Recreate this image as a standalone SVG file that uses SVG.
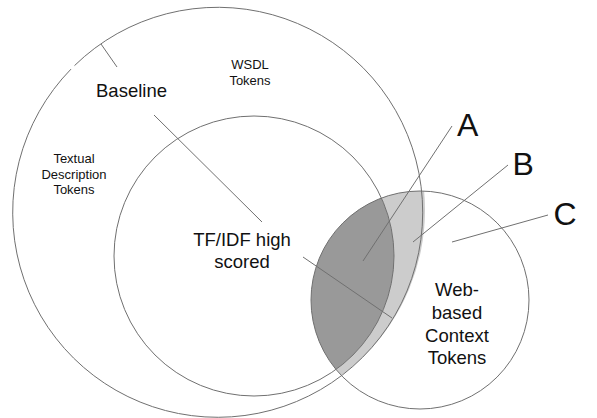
<svg xmlns="http://www.w3.org/2000/svg" width="597" height="418" viewBox="0 0 597 418">
<style>
.c{fill:none;stroke:#707070;stroke-width:1}
.l{stroke:#707070;stroke-width:1}
text{font-family:"Liberation Sans",Arial,sans-serif;fill:#111}
.s{font-size:13px;text-anchor:middle}
.m{font-size:18.5px;text-anchor:middle}
.b{font-size:32px}
</style>
<defs>
<clipPath id="webClip"><circle cx="420" cy="300" r="109"/></clipPath>
</defs>
<rect width="597" height="418" fill="#fff"/>
<g id="regions">
<circle cx="220" cy="210" r="205" fill="#cccccc" clip-path="url(#webClip)"/>
<circle cx="254" cy="256" r="140" fill="#fff" clip-path="url(#webClip)"/>
<circle cx="254" cy="256" r="140" fill="#999999" clip-path="url(#webClip)"/>
</g>
<g id="outer">
<path class="c" d="M74.5 65.6 A205 205 0 1 1 71.0 69.1"/>
<text class="s" x="250" y="69">WSDL</text>
<text class="s" x="250" y="85">Tokens</text>
<text class="s" x="74" y="163">Textual</text>
<text class="s" x="74" y="178.5">Description</text>
<text class="s" x="74" y="194">Tokens</text>
</g>
<g id="baseline">
<text class="m" x="131.5" y="97">Baseline</text>
</g>
<g id="tfidf">
<circle class="c" cx="254" cy="256" r="140"/>
<text class="m" x="242" y="246">TF/IDF high</text>
<text class="m" x="242" y="268">scored</text>
</g>
<g id="web">
<circle class="c" cx="420" cy="300" r="109"/>
<text class="m" x="457" y="296">Web-</text>
<text class="m" x="457" y="319">based</text>
<text class="m" x="457" y="342">Context</text>
<text class="m" x="457" y="364">Tokens</text>
</g>
<g id="labelA"><text class="b" x="457" y="136">A</text></g>
<g id="labelB"><text class="b" x="512.5" y="175">B</text></g>
<g id="labelC"><text class="b" x="553.5" y="225">C</text></g>
<g id="connectors">
<line class="l" x1="101" y1="44" x2="117" y2="67"/>
<line class="l" x1="154" y1="115" x2="262" y2="222"/>
<line class="l" x1="303" y1="257" x2="392" y2="318"/>
<line class="l" x1="452" y1="126" x2="363" y2="261"/>
<line class="l" x1="508" y1="165" x2="413" y2="242"/>
<line class="l" x1="548" y1="215" x2="452" y2="242"/>
</g>
</svg>
